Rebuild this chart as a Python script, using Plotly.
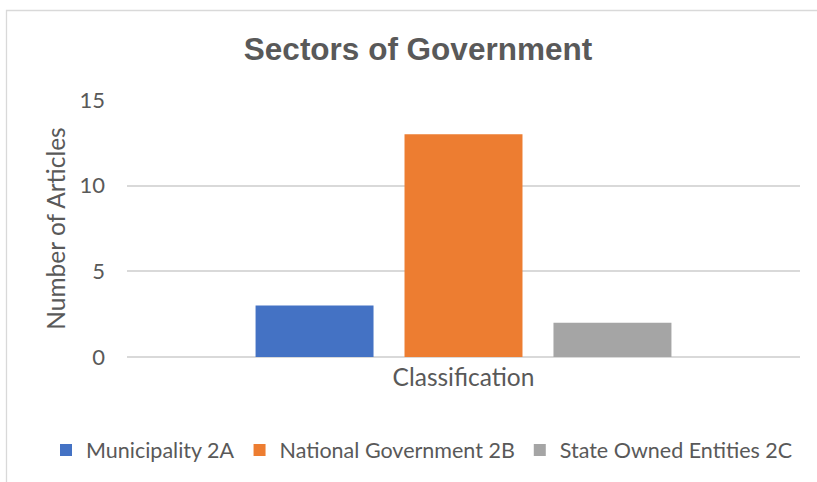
import plotly.graph_objects as go

# Articles per government sector
sectors = ["Municipality 2A", "National Government 2B", "State Owned Entities 2C"]
articles = [3, 13, 2]
colors = ["#4472C4", "#ED7D31", "#A5A5A5"]
group = ["Classification"]
y_ticks = [0, 5, 10, 15]

W, H = 817, 482
ML, MR, MT, MB = 127, 17, 100, 125
PW, PH = W - ML - MR, H - MT - MB

TEXT = "#595959"
GRID = "#D9D9D9"
BODY_FONT = "Lato"


def px_x(px):
    return (px - ML) / PW


def px_y(py):
    return (H - MB - py) / PH


fig = go.Figure()
for name, val, col in zip(sectors, articles, colors):
    fig.add_trace(go.Bar(x=group, y=[val], name=name, marker=dict(color=col, line=dict(width=0))))

# chart-area frame (left and top edges visible)
fig.add_shape(
    type="path",
    xref="paper", yref="paper",
    path=f"M {px_x(6.5)} {px_y(H + 5)} L {px_x(6.5)} {px_y(10.5)} L {px_x(W + 5)} {px_y(10.5)}",
    line=dict(color=GRID, width=1.3),
    layer="below",
)

fig.update_layout(
    width=W, height=H,
    margin=dict(l=ML, r=MR, t=MT, b=MB, autoexpand=False),
    paper_bgcolor="white", plot_bgcolor="white",
    barmode="group", bargap=0.336, bargroupgap=0.208,
    title=dict(
        text="<b>Sectors of Government</b>",
        font=dict(family="Liberation Sans, Arial", size=31.5, color=TEXT),
        xref="container", x=418 / W, xanchor="center",
        yref="container", y=1 - 49 / H, yanchor="middle",
    ),
    font=dict(family=BODY_FONT, color=TEXT),
    # legend sits below the plot area so it may use the full row width
    legend=dict(
        orientation="h",
        xref="paper", x=px_x(46), xanchor="left",
        yref="paper", y=px_y(450), yanchor="middle",
        font=dict(family=BODY_FONT, size=21.5, color=TEXT),
        itemwidth=30,
        traceorder="normal",
    ),
    showlegend=True,
)

fig.update_xaxes(
    type="category",
    showticklabels=False,
    showgrid=False,
    showline=False,
    ticks="",
    title=dict(text="Classification", font=dict(family=BODY_FONT, size=24.5, color=TEXT), standoff=11),
)
fig.update_yaxes(
    range=[0, 15],
    tickvals=y_ticks,
    showgrid=True, gridcolor=GRID, gridwidth=1.5,
    zeroline=True, zerolinecolor=GRID, zerolinewidth=1.5,
    showline=False,
    ticks="",
    ticklabelstandoff=21,
    tickfont=dict(family=BODY_FONT, size=22, color=TEXT),
    title=dict(text="Number of Articles", font=dict(family=BODY_FONT, size=24.5, color=TEXT), standoff=6),
)

fig.write_html("out.html")
